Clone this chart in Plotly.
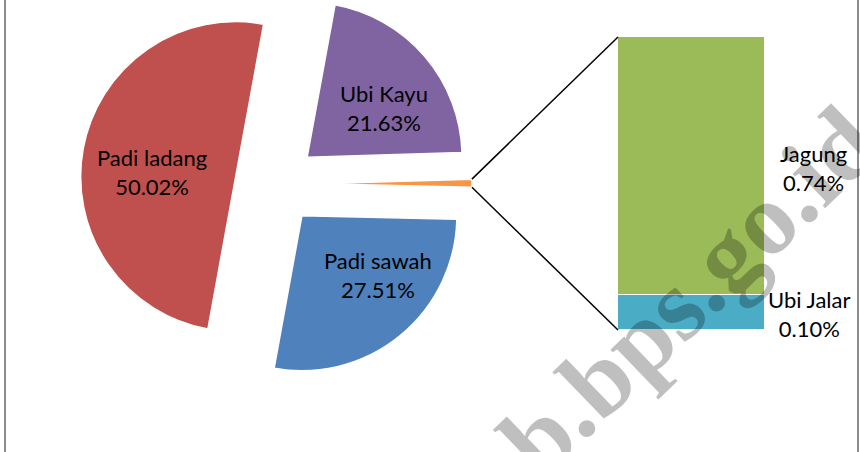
import numpy as np
import plotly.graph_objects as go

# pie slices, clockwise from the top edge of "Padi ladang"
pie_labels = ["Ubi Kayu", "Lainnya", "Padi sawah", "Padi ladang"]
pie_main = [21.63, 27.51, 50.02]
pie_colors = ["#8064A2", "#F79646", "#4F81BD", "#C0504D"]

# bar of the small slice
bar_labels = ["Ubi Jalar", "Jagung"]
bar_values = [0.10, 0.74]
bar_colors = ["#4BACC6", "#9BBB59"]

pie_values = [pie_main[0], sum(bar_values), pie_main[1], pie_main[2]]

W, H = 860, 452
pie_cx, pie_cy, R, explode = 276, 184, 155, 41
start = 10.4

fig = go.Figure()

# one pie trace per slice so every slice can be exploded on its own
total = sum(pie_values)
cum = 0
tip = None
for i, val in enumerate(pie_values):
    a0 = np.radians(start + cum / total * 360)
    a1 = np.radians(start + (cum + val) / total * 360)
    mid = (a0 + a1) / 2
    cum += val
    cx = pie_cx + explode * np.sin(mid)
    cy = pie_cy - explode * np.cos(mid)
    if i == 1:
        tip = [(cx + R * np.sin(a), cy - R * np.cos(a)) for a in (a0, a1)]
    colors = [c if j == i else "rgba(0,0,0,0)" for j, c in enumerate(pie_colors)]
    widths = [1.5 if j == i else 0 for j in range(len(pie_values))]
    fig.add_trace(go.Pie(
        values=pie_values, labels=pie_labels, sort=False,
        direction="clockwise", rotation=start,
        marker=dict(colors=colors, line=dict(color="white", width=widths)),
        textinfo="none", hoverinfo="skip", showlegend=False,
        domain=dict(x=[(cx - R) / W, (cx + R) / W],
                    y=[1 - (cy + R) / H, 1 - (cy - R) / H]),
    ))

for lab, val, col in zip(bar_labels, bar_values, bar_colors):
    fig.add_trace(go.Bar(
        x=[0], y=[val], width=1, name=lab, showlegend=False,
        marker=dict(color=col, line=dict(color="white", width=1.5)),
        hoverinfo="skip",
    ))

bx = [618 / W, 765 / W]
by = [1 - 330 / H, 1 - 37 / H]

shapes = [
    dict(type="line", xref="paper", yref="paper",
         x0=tip[0][0] / W, y0=1 - tip[0][1] / H, x1=bx[0], y1=by[1],
         line=dict(color="black", width=1.5)),
    dict(type="line", xref="paper", yref="paper",
         x0=tip[1][0] / W, y0=1 - tip[1][1] / H, x1=bx[0], y1=by[0],
         line=dict(color="black", width=1.5)),
    dict(type="line", xref="paper", yref="paper", x0=5 / W, x1=5 / W, y0=0, y1=1,
         line=dict(color="#8c8c8c", width=2)),
    dict(type="line", xref="paper", yref="paper", x0=858 / W, x1=858 / W, y0=0, y1=1,
         line=dict(color="#8c8c8c", width=2)),
]

lab_font = dict(family="Lato", size=22, color="black")
label_pos = {
    "Padi ladang": (152, 172),
    "Ubi Kayu": (384, 108),
    "Padi sawah": (378, 275),
    "Jagung": (813, 168),
    "Ubi Jalar": (809, 314),
}
pct = dict(zip(pie_labels, pie_values))
pct.update(dict(zip(bar_labels, bar_values)))

# watermark sits above the marks but under the labels
annotations = [dict(
    text="<b>b.bps.go.id</b>", x=689 / W, y=1 - 291 / H, xref="paper", yref="paper",
    xanchor="center", yanchor="middle", showarrow=False, textangle=-44,
    font=dict(family="Liberation Serif", size=103, color="rgba(0,0,0,0.25)"),
)]
for name, (x, y) in label_pos.items():
    annotations.append(dict(
        text=f"{name}<br>{pct[name]:.2f}%", x=x / W, y=1 - y / H,
        xref="paper", yref="paper", xanchor="center", yanchor="middle",
        showarrow=False, font=lab_font,
    ))

fig.update_layout(
    width=W, height=H, margin=dict(l=0, r=0, t=0, b=0),
    paper_bgcolor="white", plot_bgcolor="white",
    barmode="stack", bargap=0,
    xaxis=dict(domain=bx, range=[-0.5, 0.5], visible=False),
    yaxis=dict(domain=by, range=[0, sum(bar_values)], visible=False),
    shapes=shapes, annotations=annotations,
)

fig.write_html("out.html", config={"displayModeBar": False},
               post_script="document.body.style.margin = '0';")
